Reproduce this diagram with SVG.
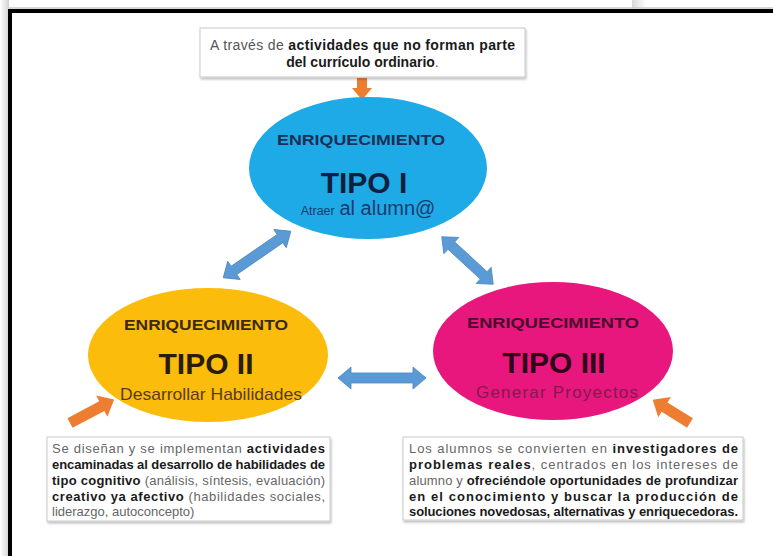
<svg xmlns="http://www.w3.org/2000/svg" width="773" height="556" viewBox="0 0 773 556">
  <defs>
    <linearGradient id="leftShade" x1="0" y1="0" x2="1" y2="0">
      <stop offset="0" stop-color="#ffffff"/>
      <stop offset="0.6" stop-color="#e4e4e4"/>
      <stop offset="1" stop-color="#d0d0d0"/>
    </linearGradient>
    <linearGradient id="topShade" x1="0" y1="0" x2="1" y2="0">
      <stop offset="0" stop-color="#d8d8d8"/>
      <stop offset="1" stop-color="#ffffff"/>
    </linearGradient>
    <filter id="shadow" x="-5%" y="-10%" width="112%" height="130%">
      <feDropShadow dx="1" dy="2" stdDeviation="1.2" flood-color="#000" flood-opacity="0.25"/>
    </filter>
  </defs>
  <style>
    .box { fill: #ffffff; stroke: #c9c9c9; stroke-width: 1; filter: url(#shadow); }
    .bt { font-family: "Liberation Sans Narrow", "Liberation Sans", Arial, sans-serif; font-size: 13px; fill: #666666; }
    .tt { font-family: "Liberation Sans Narrow", "Liberation Sans", Arial, sans-serif; font-size: 14px; fill: #555555; }
    .b { font-weight: bold; fill: #1a1a1a; }
    .en { font-family: "Liberation Sans", Arial, sans-serif; font-size: 14px; font-weight: bold; text-anchor: middle; }
    .tipo { font-family: "Liberation Sans", Arial, sans-serif; font-size: 30px; font-weight: bold; text-anchor: middle; }
    .sub { font-family: "Liberation Sans Narrow", "Liberation Sans", Arial, sans-serif; font-size: 17px; text-anchor: middle; }
    .blue-arrow { fill: #5b9bd5; stroke: #4a86c0; stroke-width: 0.8; }
    .orange-arrow { fill: #ed7d31; }
  </style>

  <!-- page background and frame -->
  <rect x="0" y="0" width="773" height="556" fill="#ffffff"/>
  <rect x="0" y="0" width="9" height="556" fill="url(#leftShade)"/>
  <rect x="632" y="0" width="14" height="8" fill="url(#topShade)"/>
  <line x1="9" y1="8" x2="773" y2="8" stroke="#c8c8c8" stroke-width="1.5"/>
  <line x1="8" y1="11" x2="773" y2="11" stroke="#000000" stroke-width="4"/>
  <line x1="10" y1="9" x2="10" y2="556" stroke="#000000" stroke-width="4"/>

  <!-- connectors -->
  <g id="connectors">
    <!-- orange arrows -->
    <polygon class="orange-arrow" points="357,78 367,78 367,88 372,88 362,100 352,88 357,88"/>
    <g transform="translate(70,423) rotate(-28)">
      <polygon class="orange-arrow" points="0,-5.5 36,-5.5 36,-12 50,0 36,12 36,5.5 0,5.5"/>
    </g>
    <g transform="translate(690,423) rotate(-148)">
      <polygon class="orange-arrow" points="0,-5.5 30,-5.5 30,-12 44,0 30,12 30,5.5 0,5.5"/>
    </g>
    <!-- blue double arrows -->
    <g transform="translate(257,254.5) rotate(-34.6)">
      <polygon class="blue-arrow" points="-41,0 -28,-11 -28,-5 28,-5 28,-11 41,0 28,11 28,5 -28,5 -28,11"/>
    </g>
    <g transform="translate(467.5,260.5) rotate(42.7)">
      <polygon class="blue-arrow" points="-35,0 -22,-11 -22,-5 22,-5 22,-11 35,0 22,11 22,5 -22,5 -22,11"/>
    </g>
    <g transform="translate(382,378)">
      <polygon class="blue-arrow" points="-44,0 -31,-11 -31,-5 31,-5 31,-11 44,0 31,11 31,5 -31,5 -31,11"/>
    </g>
  </g>

  <!-- top note -->
  <g id="node-top-note">
    <rect class="box" x="200" y="28" width="325" height="49"/>
    <text class="tt" x="210" y="50" textLength="305" lengthAdjust="spacing">A través de <tspan class="b">actividades que no forman parte</tspan></text>
    <text class="tt" x="362.5" y="67" text-anchor="middle"><tspan class="b">del currículo ordinario</tspan>.</text>
  </g>

  <!-- TIPO I -->
  <g id="node-tipo1">
    <ellipse cx="368" cy="168" rx="119" ry="71" fill="#1eaae7"/>
    <text class="en" x="361" y="145" fill="#1c2f55" textLength="168" lengthAdjust="spacingAndGlyphs">ENRIQUECIMIENTO</text>
    <text class="tipo" x="364" y="193" fill="#0f1f3c">TIPO I</text>
    <text class="sub" x="368" y="215" fill="#1a3a70" style="font-family:'Liberation Sans', Arial, sans-serif"><tspan style="font-size:12.5px">Atraer</tspan> <tspan style="font-size:20px">al alumn@</tspan></text>
  </g>

  <!-- TIPO II -->
  <g id="node-tipo2">
    <ellipse cx="208" cy="355" rx="120" ry="67" fill="#fbbc0c"/>
    <text class="en" x="206" y="330" fill="#3b2a10" textLength="164" lengthAdjust="spacingAndGlyphs">ENRIQUECIMIENTO</text>
    <text class="tipo" x="206" y="374" fill="#2a1d08">TIPO II</text>
    <text class="sub" x="211" y="400" fill="#5a3c12" textLength="182" lengthAdjust="spacingAndGlyphs">Desarrollar Habilidades</text>
  </g>

  <!-- TIPO III -->
  <g id="node-tipo3">
    <ellipse cx="553" cy="351" rx="120" ry="69" fill="#e8177d"/>
    <text class="en" x="553" y="328" fill="#4a0c2c" textLength="172" lengthAdjust="spacingAndGlyphs">ENRIQUECIMIENTO</text>
    <text class="tipo" x="554" y="373" fill="#2e0618">TIPO III</text>
    <text class="sub" x="557" y="398" fill="#85184f" textLength="162" lengthAdjust="spacing">Generar  Proyectos</text>
  </g>

  <!-- bottom-left note -->
  <g id="node-note-left">
    <rect class="box" x="47" y="437" width="283" height="84"/>
    <text class="bt" x="52" y="453" textLength="273" lengthAdjust="spacing">Se diseñan y se implementan <tspan class="b">actividades</tspan></text>
    <text class="bt" x="52" y="469" textLength="273" lengthAdjust="spacing"><tspan class="b">encaminadas al desarrollo de habilidades de</tspan></text>
    <text class="bt" x="52" y="485" textLength="273" lengthAdjust="spacing"><tspan class="b">tipo cognitivo</tspan> (análisis, síntesis, evaluación)</text>
    <text class="bt" x="52" y="501" textLength="273" lengthAdjust="spacing"><tspan class="b">creativo ya afectivo</tspan> (habilidades sociales,</text>
    <text class="bt" x="52" y="516">liderazgo, autoconcepto)</text>
  </g>

  <!-- bottom-right note -->
  <g id="node-note-right">
    <rect class="box" x="403" y="437" width="340" height="83"/>
    <text class="bt" x="409" y="453" textLength="329" lengthAdjust="spacing">Los alumnos se convierten en <tspan class="b">investigadores de</tspan></text>
    <text class="bt" x="409" y="469" textLength="329" lengthAdjust="spacing"><tspan class="b">problemas reales</tspan>, centrados en los intereses de</text>
    <text class="bt" x="409" y="485" textLength="329" lengthAdjust="spacing">alumno y <tspan class="b">ofreciéndole oportunidades de profundizar</tspan></text>
    <text class="bt" x="409" y="501" textLength="329" lengthAdjust="spacing"><tspan class="b">en el conocimiento y buscar la producción de</tspan></text>
    <text class="bt" x="409" y="516" textLength="329" lengthAdjust="spacing"><tspan class="b">soluciones novedosas, alternativas y enriquecedoras.</tspan></text>
  </g>
</svg>
